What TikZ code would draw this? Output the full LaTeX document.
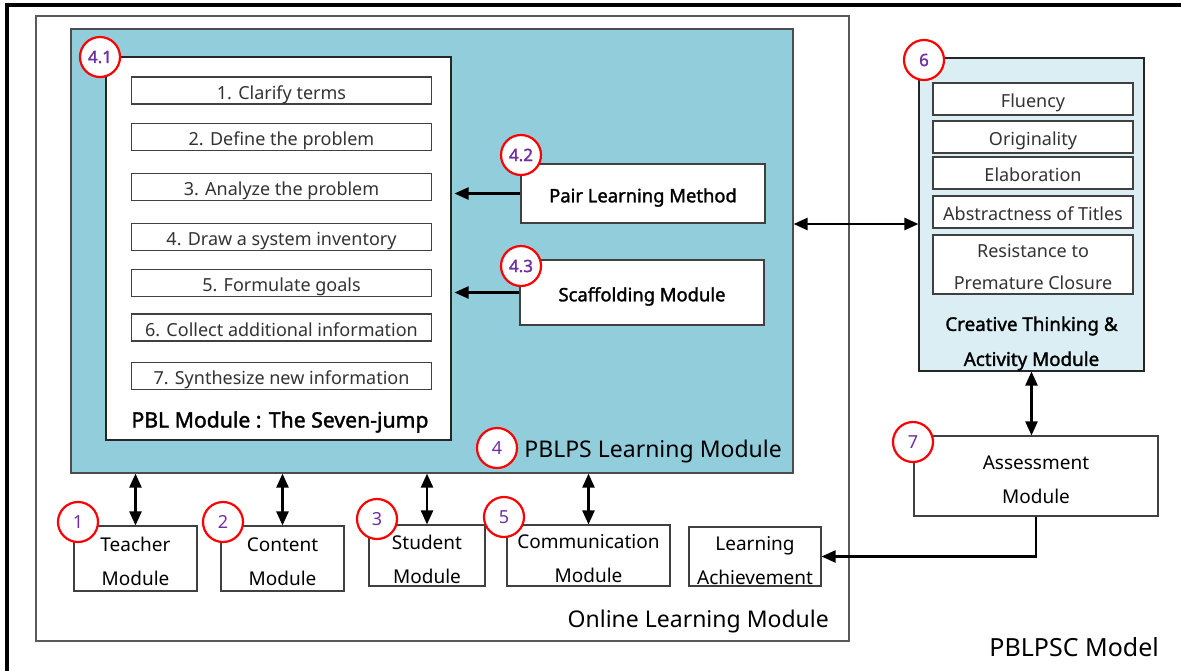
\documentclass[tikz,border=0pt]{standalone}
\usepackage{fontspec}
\setmainfont{Noto Sans}[AutoFakeBold=1.6]
\usetikzlibrary{arrows.meta}
\definecolor{tealfill}{HTML}{92CDDC}
\definecolor{icefill}{HTML}{DAEEF3}
\definecolor{numpurple}{HTML}{7030A0}
\begin{document}
\begin{tikzpicture}[x=1pt,y=-1pt,
  box/.style={draw=black!75, line width=1.1pt, fill=white, inner sep=0pt, align=center},
  stepbox/.style={box, minimum width=300pt, minimum height=27pt, text=black!80, text height=17pt, text depth=0pt, font=\fontsize{18}{22}\selectfont},
  crbox/.style={box, minimum width=200pt, minimum height=32pt, text=black!80, text height=17pt, text depth=0pt, font=\fontsize{18}{22}\selectfont},
  modbox/.style={box},
  mtext/.style={inner sep=0pt, align=center, font=\fontsize{19}{34}\selectfont},
  boldbox/.style={box, text height=17.5pt, text depth=0pt, font=\bfseries\fontsize{18.4}{22}\selectfont},
  num/.style={circle, draw=red, line width=2.2pt, fill=white, minimum size=40pt, inner sep=0pt, text=numpurple, font=\fontsize{18}{20}\selectfont},
  bnum/.style={num, font=\bfseries\fontsize{17}{20}\selectfont},
  dbl/.style={{Triangle[length=14pt,width=12pt]}-{Triangle[length=14pt,width=12pt]}, line width=2.4pt},
  sgl/.style={-{Triangle[length=14pt,width=12pt]}, line width=2.4pt},
  lbl/.style={inner sep=0pt, font=\fontsize{23}{26}\selectfont}
]
\useasboundingbox (0,0) rectangle (1181,670);
\clip (0,0) rectangle (1181,670);
\fill[white] (0,0) rectangle (1181,670);

% outer frame (extends beyond the page)
\draw[line width=3.5pt] (1200,5) -- (7,5) -- (7,700);

% Online learning module
\node[draw=black!65, line width=1.3pt, minimum width=813pt, minimum height=625pt, inner sep=0pt] (online) at (442.5,328.5) {};
\node[lbl, anchor=east] (onlinelbl) at (829,622) {Online Learning Module};

% PBLPS learning module
\node[draw=black!70, line width=1.2pt, fill=tealfill, minimum width=722pt, minimum height=444pt, inner sep=0pt] (pblps) at (432,251) {};
\node[lbl, anchor=east] (pblpslbl) at (782,452) {PBLPS Learning Module};
\node[num] (c4) at (497,448) {4};

% PBL module
\node[box, draw=black!85, minimum width=345pt, minimum height=383pt] (pbl) at (278.5,248.5) {};
\node[inner sep=0pt, font=\bfseries\fontsize{21.2}{24}\selectfont] (pbllbl) at (280,422) {PBL Module : The Seven-jump};
\node[stepbox] (s1) at (281.5,90.5) {1. Clarify terms};
\node[stepbox] (s2) at (281.5,137) {2. Define the problem};
\node[stepbox] (s3) at (281.5,187) {3. Analyze the problem};
\node[stepbox] (s4) at (281.5,237) {4. Draw a system inventory};
\node[stepbox] (s5) at (281.5,283) {5. Formulate goals};
\node[stepbox] (s6) at (281.5,327.5) {6. Collect additional information};
\node[stepbox] (s7) at (281.5,376) {7. Synthesize new information};
\node[bnum] (c41) at (100,57) {4.1};

% Pair learning & scaffolding
\node[boldbox, minimum width=244pt, minimum height=59pt] (pair) at (643,193.5) {Pair Learning Method};
\node[boldbox, minimum width=244pt, minimum height=65pt] (scaf) at (642,292.5) {Scaffolding Module};
\node[bnum] (c42) at (521,155) {4.2};
\node[bnum] (c43) at (521,266) {4.3};
\draw[sgl, shorten >=3pt] (pair.west) -- (pair.west -| pbl.east);
\draw[sgl, shorten >=3pt] (scaf.west) -- (scaf.west -| pbl.east);

% Creative thinking
\node[box, draw=black!85, fill=icefill, minimum width=225pt, minimum height=313pt] (creative) at (1031.5,214.5) {};
\node[crbox] (flu) at (1033,99) {Fluency};
\node[crbox] (ori) at (1033,137) {Originality};
\node[crbox] (ela) at (1033,173) {Elaboration};
\node[crbox] (abs) at (1033,212) {Abstractness of Titles};
\node[box, minimum width=200pt, minimum height=59pt] (res) at (1033,264.5) {};
\node[mtext, text=black!80, font=\fontsize{18}{32.5}\selectfont] (restext) at (1033,267) {Resistance to\\Premature Closure};
\node[inner sep=0pt, align=center, font=\bfseries\fontsize{18.8}{35}\selectfont] (crlbl) at (1031.5,343.5) {Creative Thinking \&\\Activity Module};
\node[bnum] (c6) at (924,60) {6};

% Assessment
\node[modbox, minimum width=244pt, minimum height=80pt] (assess) at (1036,476) {};
\node[mtext] (assesstext) at (1036,480) {Assessment\\Module};
\node[num] (c7) at (913,442) {7};

% bottom modules
\node[modbox, minimum width=123pt, minimum height=65pt] (teacher) at (135.5,558.5) {};
\node[mtext] (teachertext) at (135.5,561.5) {Teacher\\Module};
\node[modbox, minimum width=123pt, minimum height=65pt] (content) at (282.5,558.5) {};
\node[mtext] (contenttext) at (282.5,561.5) {Content\\Module};
\node[modbox, minimum width=116pt, minimum height=61pt] (student) at (427,555.5) {};
\node[mtext] (studenttext) at (427,559.5) {Student\\Module};
\node[modbox, minimum width=163pt, minimum height=61pt] (comm) at (588.5,555.5) {};
\node[mtext] (commtext) at (588.5,559) {Communication\\Module};
\node[modbox, minimum width=132pt, minimum height=59pt] (learn) at (755,556.5) {};
\node[mtext] (learntext) at (755,560.5) {Learning\\Achievement};
\node[num] (c1) at (78,522) {1};
\node[num] (c2) at (223,522) {2};
\node[num] (c3) at (377,519) {3};
\node[num] (c5) at (504,517) {5};

% connectors
\draw[dbl] (teacher.north) -- (teacher.north |- pblps.south);
\draw[dbl] (content.north) -- (content.north |- pblps.south);
\draw[dbl] (student.north) -- (student.north |- pblps.south);
\draw[dbl] (comm.north) -- (comm.north |- pblps.south);
\coordinate (ay) at (0,224);
\draw[dbl] (pblps.east |- ay) -- (creative.west |- ay);
\draw[dbl] (creative.south) -- (creative.south |- assess.north);
\draw[sgl, line width=2.2pt] (assess.south) |- (learn.east);

% model title
\node[inner sep=0pt, anchor=east, font=\fontsize{25}{28}\selectfont] (model) at (1159,647) {PBLPSC Model};
\end{tikzpicture}
\end{document}
